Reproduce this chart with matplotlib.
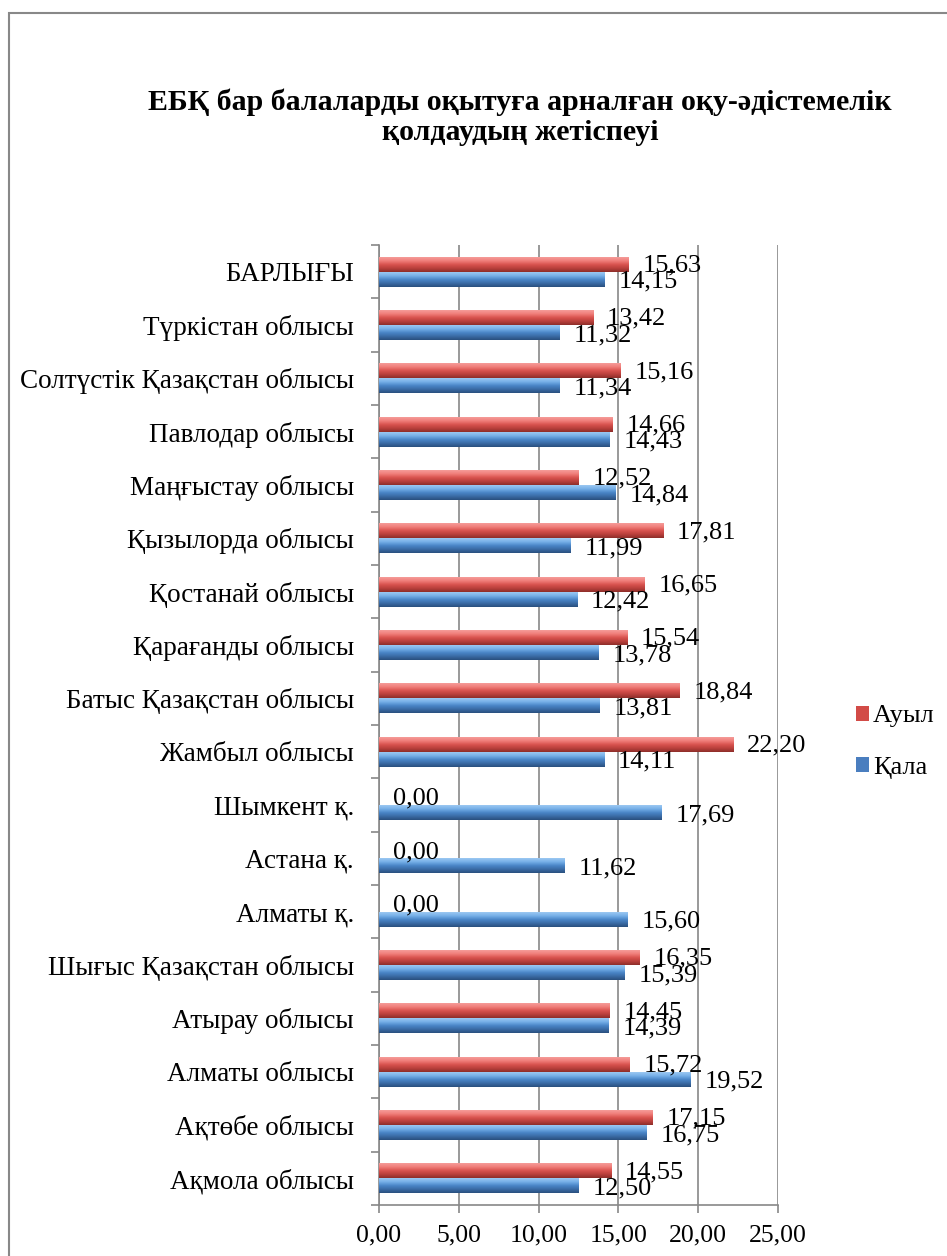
import numpy as np
import matplotlib.pyplot as plt
from matplotlib.patches import Rectangle
from matplotlib.colors import LinearSegmentedColormap

plt.rcParams['font.family'] = ['Liberation Serif', 'DejaVu Serif']

# categories from top to bottom
regions = ["БАРЛЫҒЫ", "Түркістан облысы", "Солтүстік Қазақстан облысы",
           "Павлодар облысы", "Маңғыстау облысы", "Қызылорда облысы",
           "Қостанай облысы", "Қарағанды облысы", "Батыс Қазақстан облысы",
           "Жамбыл облысы", "Шымкент қ.", "Астана қ.", "Алматы қ.",
           "Шығыс Қазақстан облысы", "Атырау облысы", "Алматы облысы",
           "Ақтөбе облысы", "Ақмола облысы"]
auyl = [15.63, 13.42, 15.16, 14.66, 12.52, 17.81, 16.65, 15.54, 18.84,
        22.20, 0.00, 0.00, 0.00, 16.35, 14.45, 15.72, 17.15, 14.55]
qala = [14.15, 11.32, 11.34, 14.43, 14.84, 11.99, 12.42, 13.78, 13.81,
        14.11, 17.69, 11.62, 15.60, 15.39, 14.39, 19.52, 16.75, 12.50]
xticks = [0, 5, 10, 15, 20, 25]

title = "ЕБҚ бар балаларды оқытуға арналған оқу-әдістемелік\nқолдаудың жетіспеуі"


def shade(ax, bars, cols):
    # fake the 3d bevel look with a vertical gradient clipped to each bar
    cmap = LinearSegmentedColormap.from_list('g', cols)
    grad = np.linspace(0, 1, 64).reshape(-1, 1)
    for p in bars.patches:
        if p.get_width() <= 0:
            continue
        x0, y0 = p.get_x(), p.get_y()
        im = ax.imshow(grad, extent=[x0, x0 + p.get_width(), y0, y0 + p.get_height()],
                       origin='lower', aspect='auto', cmap=cmap, zorder=3.5)
        im.set_clip_path(p)


fig = plt.figure(figsize=(9.47, 12.56), dpi=100)
# outer chart frame
fig.patches.append(Rectangle((9 / 947, 1 - 13 / 1256 - 2), 2, 2, transform=fig.transFigure,
                             fill=False, edgecolor='#888888', linewidth=1.5))

ax = fig.add_axes([379 / 947, 1 - 1205 / 1256, (778 - 379) / 947, (1205 - 245) / 1256])

n = len(regions)
y = np.arange(n)[::-1].astype(float)
h = 0.28
red = '#D24B47'
blue = '#4A7EBF'
rb = ax.barh(y + h / 2, auyl, height=h, color=red, linewidth=0, label='Ауыл', zorder=3)
bb = ax.barh(y - h / 2, qala, height=h, color=blue, linewidth=0, label='Қала', zorder=3)
shade(ax, rb, ['#8E2D2A', '#B9403C', '#D9534F', '#F07E7A', '#F59C99'])
shade(ax, bb, ['#2A4F7E', '#3A6BA5', '#4A86C8', '#76AFE8', '#9CC8F2'])

for yi, a, q in zip(y, auyl, qala):
    ax.annotate(f"{a:.2f}".replace('.', ','), (a, yi + h / 2), xytext=(10, -1), textcoords='offset points',
                ha='left', va='center', fontsize=19, zorder=4)
    ax.annotate(f"{q:.2f}".replace('.', ','), (q, yi - h / 2), xytext=(10, -2), textcoords='offset points',
                ha='left', va='center', fontsize=19, zorder=4)

ax.set_xlim(0, 25)
ax.set_ylim(-0.5, n - 0.5)
ax.set_xticks(xticks)
ax.set_xticklabels([f"{v:.2f}".replace('.', ',') for v in xticks], fontsize=18.5)
ax.set_yticks(y)
ax.set_yticklabels(regions, fontsize=19.5)
ax.set_yticks(np.arange(n + 1) - 0.5, minor=True)
ax.tick_params(axis='y', which='major', length=0, pad=18)
ax.tick_params(axis='y', which='minor', length=6, color='#888888', width=1.2)
ax.tick_params(axis='x', length=6, color='#888888', width=1.2, pad=8)
ax.grid(axis='x', color='#888888', linewidth=1.2, zorder=0)
for s in ['top', 'right']:
    ax.spines[s].set_visible(False)
for s in ['left', 'bottom']:
    ax.spines[s].set_color('#888888')
    ax.spines[s].set_linewidth(1.2)

fig.text(520 / 947, 1 - 117 / 1256, title, ha='center', va='center', fontsize=21.5,
         fontweight='bold', linespacing=1.15)

leg = ax.legend(loc='center left', bbox_to_anchor=(856 / 947, 1 - 742 / 1256),
                bbox_transform=fig.transFigure, frameon=False, fontsize=19,
                handlelength=0.5, handleheight=0.5, handletextpad=0.15, labelspacing=1.1,
                borderpad=0, borderaxespad=0)

fig.savefig('out.png', dpi=100)
